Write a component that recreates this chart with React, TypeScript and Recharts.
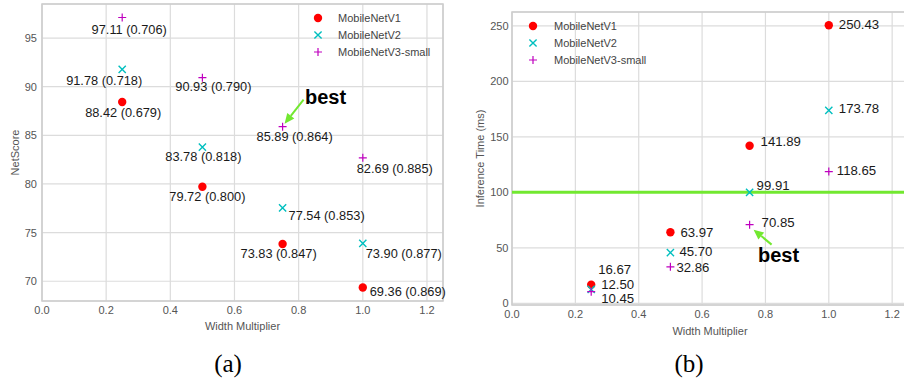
import React from "react";
import {
  CartesianGrid,
  Label,
  Legend,
  ReferenceArea,
  ReferenceDot,
  ReferenceLine,
  Scatter,
  ScatterChart,
  XAxis,
  YAxis,
} from "recharts";

// width multipliers tested for each model
const widths = [0.25, 0.5, 0.75, 1.0];
const xTicks = [0, 0.2, 0.4, 0.6, 0.8, 1.0, 1.2];
const seriesNames = ["MobileNetV1", "MobileNetV2", "MobileNetV3-small"];

// (a) NetScore, the bracketed number is printed next to each point
const netScoreV1 = [88.42, 79.72, 73.83, 69.36];
const netScoreV2 = [91.78, 83.78, 77.54, 73.9];
const netScoreV3 = [97.11, 90.93, 85.89, 82.69];
const bracketV1 = [0.679, 0.8, 0.847, 0.869];
const bracketV2 = [0.718, 0.818, 0.853, 0.877];
const bracketV3 = [0.706, 0.79, 0.864, 0.885];
const netScoreTicks = [70, 75, 80, 85, 90, 95];

// (b) inference time (ms)
const timeV1 = [16.67, 63.97, 141.89, 250.43];
const timeV2 = [12.5, 45.7, 99.91, 173.78];
const timeV3 = [10.45, 32.86, 70.85, 118.65];
const timeTicks = [0, 50, 100, 150, 200, 250];
const timeLimit = 100;

// where the "best" arrow points (series index, width index)
const bestPoint = { series: 2, index: 2 };

const FONT = "'Liberation Sans', Arial, Helvetica, sans-serif";
const COLORS = ["#ff0000", "#00bfbf", "#bf00bf"];
const GREEN = "#72e830";

// label nudges in px (annotation layout only)
const nudgeA = [
  [[1, 10], [5, 10], [-4, 10], [45, 4]],
  [[-18, 11], [1, 9], [44, 8], [41, 10]],
  [[7, 12], [11, 9], [12, 10], [32, 11]],
];
const nudgeB = [
  [[7, -15], [10, 0], [11, -4], [10, -1]],
  [[10, -5], [9, -1], [7, -7], [10, -2]],
  [[10, 7], [6, 1], [12, -2], [8, -1]],
];

const domainA: [number, number] = [67.97, 98.5];
const domainB: [number, number] = [-1.55, 262.43];
const xDomain: [number, number] = [0, 1.25];

function Marker({ kind, cx, cy }: { kind: number; cx: number; cy: number }) {
  if (kind === 0) return <circle cx={cx} cy={cy} r={4.2} fill={COLORS[0]} />;
  if (kind === 1)
    return (
      <path
        d={`M${cx - 3.6},${cy - 3.6}L${cx + 3.6},${cy + 3.6}M${cx - 3.6},${cy + 3.6}L${cx + 3.6},${cy - 3.6}`}
        stroke={COLORS[1]}
        strokeWidth={1.4}
        fill="none"
      />
    );
  return (
    <path
      d={`M${cx - 4},${cy}H${cx + 4}M${cx},${cy - 4}V${cy + 4}`}
      stroke={COLORS[2]}
      strokeWidth={1.2}
      fill="none"
    />
  );
}

const pointShape =
  (kind: number, fontSize: number, anchor: "middle" | "start") => (p: any) => {
    const { cx, cy, payload } = p;
    return (
      <g>
        <Marker kind={kind} cx={cx} cy={cy} />
        <text
          x={cx + payload.dx}
          y={cy + payload.dy}
          textAnchor={anchor}
          dominantBaseline="central"
          fontSize={fontSize}
          fill="#1a1a1a"
        >
          {payload.label}
        </text>
      </g>
    );
  };

function BestArrow(p: any) {
  const { cx, cy, tail, tip, textAt } = p;
  const x1 = cx + tail[0];
  const y1 = cy + tail[1];
  const x2 = cx + tip[0];
  const y2 = cy + tip[1];
  const a = Math.atan2(y2 - y1, x2 - x1);
  const L = 10;
  const W = 4.5;
  const bx = x2 - L * Math.cos(a);
  const by = y2 - L * Math.sin(a);
  const px = -Math.sin(a) * W;
  const py = Math.cos(a) * W;
  return (
    <g>
      <line x1={x1} y1={y1} x2={bx} y2={by} stroke={GREEN} strokeWidth={2} />
      <polygon
        points={`${x2},${y2} ${bx + px},${by + py} ${bx - px},${by - py}`}
        fill={GREEN}
      />
      <text
        x={cx + textAt[0]}
        y={cy + textAt[1]}
        textAnchor="middle"
        dominantBaseline="central"
        fontSize={20}
        fontWeight="bold"
        fill="#000"
      >
        best
      </text>
    </g>
  );
}

function LegendBox({ gap }: { gap: number }) {
  return (
    <div style={{ fontFamily: FONT, fontSize: 11, color: "#444" }}>
      {seriesNames.map((name, i) => (
        <div key={name} style={{ display: "flex", alignItems: "center", height: 17 }}>
          <svg width={12} height={12} style={{ marginRight: gap }}>
            <Marker kind={i} cx={6} cy={6} />
          </svg>
          <span>{name}</span>
        </div>
      ))}
    </div>
  );
}

const rowsA = [netScoreV1, netScoreV2, netScoreV3].map((ys, s) => {
  const br = [bracketV1, bracketV2, bracketV3][s];
  return widths.map((w, i) => ({
    x: w,
    y: ys[i],
    label: `${ys[i].toFixed(2)} (${br[i].toFixed(3)})`,
    dx: nudgeA[s][i][0],
    dy: nudgeA[s][i][1],
  }));
});

const rowsB = [timeV1, timeV2, timeV3].map((ys, s) =>
  widths.map((w, i) => ({
    x: w,
    y: ys[i],
    label: ys[i].toFixed(2),
    dx: nudgeB[s][i][0],
    dy: nudgeB[s][i][1],
  }))
);

const tickStyle = { fontSize: 11, fill: "#555", fontFamily: FONT };

function NetScoreChart() {
  return (
    <ScatterChart width={450} height={340} margin={{ top: 4, right: 7, bottom: 0, left: 0 }}>
      <CartesianGrid stroke="#dcdcdc" strokeWidth={1.2} />
      <ReferenceArea
        x1={xDomain[0]}
        x2={xDomain[1]}
        y1={domainA[0]}
        y2={domainA[1]}
        fill="none"
        stroke="#cccccc"
        strokeWidth={1.5}
      />
      <XAxis
        type="number"
        dataKey="x"
        domain={xDomain}
        ticks={xTicks}
        tickFormatter={(v: number) => v.toFixed(1)}
        height={39}
        tickLine={false}
        axisLine={false}
        tickSize={0}
        tickMargin={5}
        tick={tickStyle}
      >
        <Label value="Width Multiplier" position="insideBottom" offset={10} fill="#555" fontSize={11} />
      </XAxis>
      <YAxis
        type="number"
        dataKey="y"
        domain={domainA}
        ticks={netScoreTicks}
        width={42}
        tickLine={false}
        axisLine={false}
        tickSize={0}
        tickMargin={5}
        tick={tickStyle}
      >
        <Label
          value="NetScore"
          angle={-90}
          position="insideLeft"
          offset={15}
          fill="#555"
          fontSize={11}
          style={{ textAnchor: "middle" }}
        />
      </YAxis>
      {rowsA.map((rows, s) => (
        <Scatter
          key={seriesNames[s]}
          name={seriesNames[s]}
          data={rows}
          shape={pointShape(s, 12.8, "middle")}
          isAnimationActive={false}
        />
      ))}
      <ReferenceDot
        x={widths[bestPoint.index]}
        y={[netScoreV1, netScoreV2, netScoreV3][bestPoint.series][bestPoint.index]}
        shape={(p: any) => <BestArrow {...p} tail={[21, -27]} tip={[2, -3]} textAt={[43, -30]} />}
      />
      <Legend
        layout="vertical"
        align="center"
        verticalAlign="middle"
        wrapperStyle={{ left: 312, top: 9.5, width: "auto" }}
        content={() => <LegendBox gap={14} />}
      />
    </ScatterChart>
  );
}

function InferenceChart() {
  return (
    <ScatterChart width={460} height={345} margin={{ top: 12, right: 2, bottom: 0, left: 0 }}>
      <CartesianGrid stroke="#dcdcdc" strokeWidth={1.2} />
      <ReferenceArea
        x1={xDomain[0]}
        x2={xDomain[1]}
        y1={domainB[0]}
        y2={domainB[1]}
        fill="none"
        stroke="#cccccc"
        strokeWidth={1.5}
      />
      <ReferenceLine y={timeLimit} stroke={GREEN} strokeWidth={3} />
      <XAxis
        type="number"
        dataKey="x"
        domain={xDomain}
        ticks={xTicks}
        tickFormatter={(v: number) => v.toFixed(1)}
        height={40}
        tickLine={false}
        axisLine={false}
        tickSize={0}
        tickMargin={5}
        tick={tickStyle}
      >
        <Label value="Width Multiplier" position="insideBottom" offset={10} fill="#555" fontSize={11} />
      </XAxis>
      <YAxis
        type="number"
        dataKey="y"
        domain={domainB}
        ticks={timeTicks}
        width={62}
        tickLine={false}
        axisLine={false}
        tickSize={0}
        tickMargin={3.5}
        tick={tickStyle}
      >
        <Label
          value="Inference Time (ms)"
          angle={-90}
          position="insideLeft"
          offset={30}
          fill="#555"
          fontSize={11}
          style={{ textAnchor: "middle" }}
        />
      </YAxis>
      {rowsB.map((rows, s) => (
        <Scatter
          key={seriesNames[s]}
          name={seriesNames[s]}
          data={rows}
          shape={pointShape(s, 13.2, "start")}
          isAnimationActive={false}
        />
      ))}
      <ReferenceDot
        x={widths[bestPoint.index]}
        y={[timeV1, timeV2, timeV3][bestPoint.series][bestPoint.index]}
        shape={(p: any) => <BestArrow {...p} tail={[22, 20]} tip={[4, 5]} textAt={[29, 30]} />}
      />
      <Legend
        layout="vertical"
        align="center"
        verticalAlign="middle"
        wrapperStyle={{ left: 77, top: 17.5, width: "auto" }}
        content={() => <LegendBox gap={15} />}
      />
    </ScatterChart>
  );
}

const captionStyle: React.CSSProperties = {
  position: "absolute",
  width: 100,
  textAlign: "center",
  fontFamily: "'Liberation Serif', 'Times New Roman', serif",
  fontSize: 25,
  lineHeight: "26px",
  top: 351,
  color: "#000",
};

export default function App() {
  return (
    <div
      style={{
        position: "fixed",
        left: 0,
        top: 0,
        width: 904,
        height: 378,
        overflow: "hidden",
        background: "#fff",
        fontFamily: FONT,
      }}
    >
      <div style={{ position: "absolute", left: 0, top: 0 }}>
        <NetScoreChart />
      </div>
      <div style={{ position: "absolute", left: 450, top: 0 }}>
        <InferenceChart />
      </div>
      <div style={{ ...captionStyle, left: 178 }}>(a)</div>
      <div style={{ ...captionStyle, left: 639 }}>(b)</div>
    </div>
  );
}
